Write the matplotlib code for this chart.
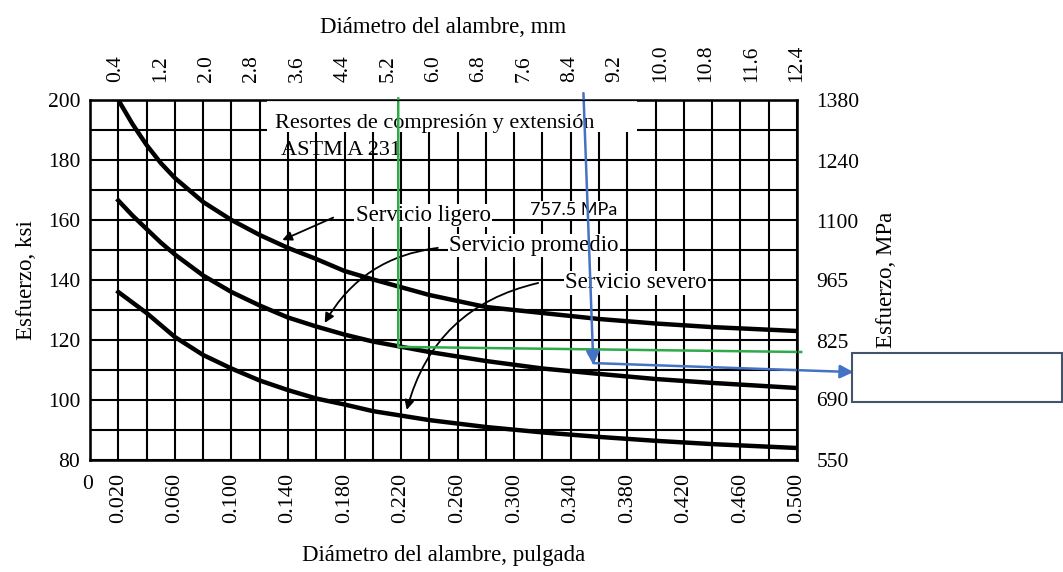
import matplotlib
matplotlib.use("Agg")
import matplotlib.pyplot as plt
from matplotlib.patches import Rectangle
import numpy as np

# wire diameter (in) and allowable stress (ksi)
diam = [0.02, 0.03, 0.04, 0.05, 0.06, 0.08, 0.10, 0.12, 0.14, 0.16, 0.18, 0.20,
        0.24, 0.28, 0.32, 0.36, 0.40, 0.44, 0.50]
ligero = [200, 192, 185, 179, 174, 166, 160, 155, 150.7, 147, 143, 140.2,
          135, 131, 129, 127, 125.5, 124.3, 123]
promedio = [166.5, 161.5, 157, 152.5, 148.5, 141.5, 136, 131.5, 127.5, 124.5, 121.8, 119.5,
            116, 113, 110.5, 108.7, 107, 105.7, 104]
severo = [136, 132.5, 129, 125, 121, 115, 110.5, 106.5, 103.3, 100.5, 98.5, 96.3,
          93.3, 91, 89.2, 87.7, 86.4, 85.3, 84]

x_ticks = [0.020, 0.060, 0.100, 0.140, 0.180, 0.220, 0.260, 0.300, 0.340, 0.380, 0.420, 0.460, 0.500]
mm_ticks = [0.4, 1.2, 2.0, 2.8, 3.6, 4.4, 5.2, 6.0, 6.8, 7.6, 8.4, 9.2, 10.0, 10.8, 11.6, 12.4]
ksi_ticks = [80, 100, 120, 140, 160, 180, 200]
mpa_ticks = [550, 690, 825, 965, 1100, 1240, 1380]

serif = "Liberation Serif"
plt.rcParams["font.family"] = serif

fig = plt.figure(figsize=(10.63, 5.72), dpi=100)
ax = fig.add_axes([0.0847, 0.1958, 0.665, 0.6294])

ax.set_xlim(0, 0.5)
ax.set_ylim(80, 200)
ax.set_xticks(x_ticks)
ax.set_xticklabels([f"{v:.3f}" for v in x_ticks], rotation=90, fontsize=16)
ax.set_xticks(np.arange(0, 0.501, 0.02), minor=True)
ax.set_yticks(ksi_ticks)
ax.set_yticklabels([str(v) for v in ksi_ticks], fontsize=15.5)
ax.set_yticks(np.arange(80, 201, 10), minor=True)
ax.tick_params(which="both", length=0)
ax.tick_params(axis="x", pad=9)
ax.tick_params(axis="y", pad=7)
ax.grid(which="both", color="black", linewidth=1.5)
for s in ax.spines.values():
    s.set_linewidth(1.8)

ax.plot(diam, ligero, color="black", lw=3.2, zorder=4)
ax.plot(diam, promedio, color="black", lw=3.2, zorder=4)
ax.plot(diam, severo, color="black", lw=3.2, zorder=4)

ax.text(-0.002, 75, "0", fontsize=15.5, ha="center", va="top")

# title box over the grid
ax.add_patch(Rectangle((0.125, 189.2), 0.262, 10.8, facecolor="white", edgecolor="none", zorder=3))
ax.text(0.131, 192.3, "Resortes de compresión y extensión", fontsize=16, va="center", zorder=5)
ax.text(0.135, 183.3, "ASTM A 231", fontsize=16, va="center", zorder=5)

# curve labels with arrows
arrow = dict(arrowstyle="-|>", color="black", lw=1.3, mutation_scale=14, shrinkA=0, shrinkB=0)
ax.text(0.188, 161.5, "Servicio ligero", fontsize=16.5, va="center", zorder=5,
        bbox=dict(facecolor="white", edgecolor="none", pad=1))
ax.annotate("", xy=(0.136, 153.3), xytext=(0.172, 160.8), arrowprops=arrow, zorder=5)

ax.text(0.254, 151.5, "Servicio promedio", fontsize=16.5, va="center", zorder=5,
        bbox=dict(facecolor="white", edgecolor="none", pad=1))
ax.annotate("", xy=(0.166, 125.7), xytext=(0.246, 150.7),
            arrowprops=dict(arrow, connectionstyle="arc3,rad=0.25"), zorder=5)

ax.text(0.336, 139, "Servicio severo", fontsize=16.5, va="center", zorder=5,
        bbox=dict(facecolor="white", edgecolor="none", pad=1))
ax.annotate("", xy=(0.224, 96.7), xytext=(0.317, 139),
            arrowprops=dict(arrow, connectionstyle="arc3,rad=0.3"), zorder=5)

# hand-drawn marks
green = "#2EAA4A"
blue = "#4472C4"
ax.plot([0.218, 0.218, 0.503], [200.5, 117.7, 116], color=green, lw=1.8, clip_on=False, zorder=6)
ax.text(0.311, 163.3, "757.5 MPa", fontsize=13, family="Lato", va="center", zorder=6,
        bbox=dict(facecolor="white", edgecolor="none", pad=0.5))
blue_arrow = dict(arrowstyle="-|>", color=blue, lw=1.8, mutation_scale=20, shrinkA=0, shrinkB=0)
ax.annotate("", xy=(0.356, 111.7), xytext=(0.349, 202.3), arrowprops=blue_arrow,
            annotation_clip=False, zorder=7)
ax.annotate("", xy=(0.540, 109.3), xytext=(0.356, 112.3), arrowprops=blue_arrow,
            annotation_clip=False, zorder=7)
fig.add_artist(Rectangle((0.8015, 0.2972), 0.1975, 0.0857, transform=fig.transFigure,
                         facecolor="white", edgecolor="#44546A", lw=1.5))

# top axis in mm
top = ax.twiny()
top.set_xlim(-0.05, 12.4)
top.set_xticks(mm_ticks)
top.set_xticklabels([f"{v:.1f}" for v in mm_ticks], rotation=90, fontsize=15.5)
top.tick_params(length=0, pad=13)
top.set_xlabel("Diámetro del alambre, mm", fontsize=16.5, labelpad=8)

# right axis in MPa
right = ax.twinx()
right.set_ylim(80 * 6.895, 200 * 6.895)
right.set_yticks(mpa_ticks)
right.set_yticklabels([str(v) for v in mpa_ticks], fontsize=15.5)
right.tick_params(length=0, pad=14)
right.set_ylabel("Esfuerzo, MPa", fontsize=16.5, labelpad=12)

ax.set_xlabel("Diámetro del alambre, pulgada", fontsize=16.5, labelpad=16)
ax.set_ylabel("Esfuerzo, ksi", fontsize=16.5, labelpad=8)

fig.savefig("out.png", dpi=100)
